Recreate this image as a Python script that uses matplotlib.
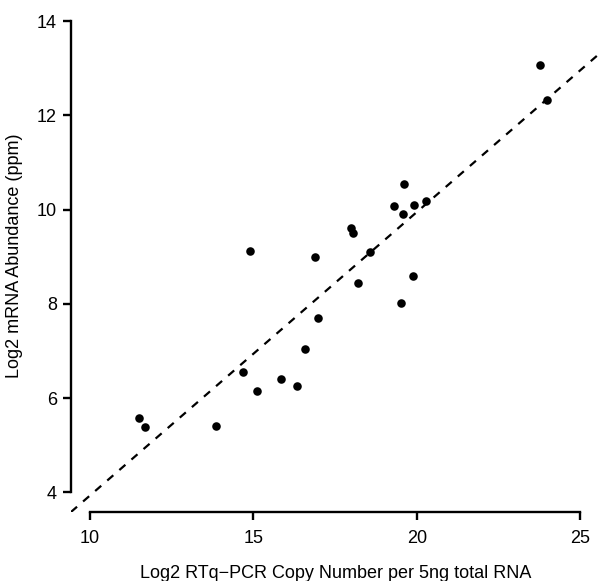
import matplotlib
matplotlib.use("Agg")
import matplotlib.pyplot as plt

# Log2 RTq-PCR copy number per 5ng total RNA
rtqpcr = [23.78, 23.98, 19.62, 19.31, 19.91, 20.28, 19.57, 17.98, 18.03, 14.91,
          16.87, 18.58, 19.88, 18.19, 19.50, 16.98, 16.57, 14.69, 15.85, 16.32,
          15.10, 11.51, 11.69, 13.84]
# Log2 mRNA abundance (ppm)
abundance = [13.07, 12.33, 10.54, 10.07, 10.10, 10.18, 9.90, 9.62, 9.50, 9.13,
             9.00, 9.10, 8.60, 8.44, 8.01, 7.69, 7.04, 6.56, 6.40, 6.26,
             6.15, 5.57, 5.39, 5.41]

fit_intercept = -2.09
fit_slope = 0.602

x_ticks = [10, 15, 20, 25]
y_ticks = [4, 6, 8, 10, 12, 14]

plt.rcParams['font.family'] = ['Liberation Sans', 'DejaVu Sans']

fig = plt.figure(figsize=(6.0, 5.81), dpi=100)
fig.patch.set_facecolor('white')
ax = fig.add_axes([71 / 600, 69 / 581, 529 / 600, 512 / 581])

ax.scatter(rtqpcr, abundance, s=38, color='black', zorder=3, linewidths=0)
ax.axline((0, fit_intercept), slope=fit_slope, color='black',
          linewidth=1.6, dashes=(3.6, 3.6))

ax.set_xlim(9.42, 25.6)
ax.set_ylim(3.58, 14.45)

ax.spines['top'].set_visible(False)
ax.spines['right'].set_visible(False)
ax.spines['left'].set_bounds(4, 14)
ax.spines['bottom'].set_bounds(10, 25)
for side in ('left', 'bottom'):
    ax.spines[side].set_linewidth(1.7)

ax.set_xticks(x_ticks)
ax.set_yticks(y_ticks)
ax.tick_params(axis='both', length=6, width=1.7, labelsize=13, pad=4)
ax.tick_params(axis='x', pad=7)

ax.set_xlabel('Log2 RTq\u2212PCR Copy Number per 5ng total RNA', fontsize=13, labelpad=13)
ax.set_ylabel('Log2 mRNA Abundance (ppm)', fontsize=13, labelpad=10)

plt.savefig('out.png', dpi=100, facecolor='white')
plt.close()
